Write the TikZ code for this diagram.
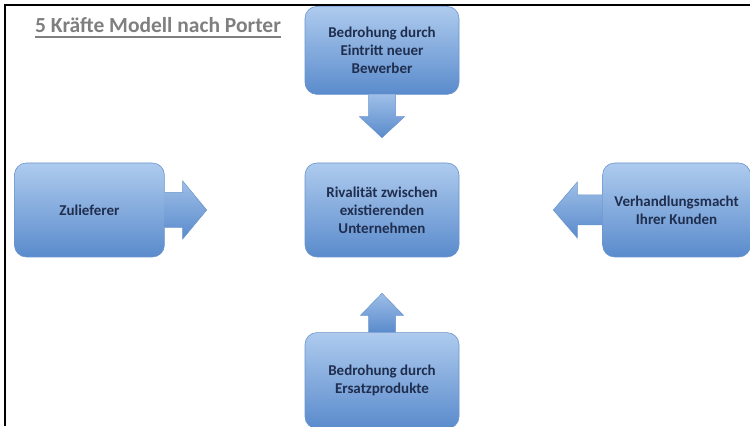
\documentclass[tikz,border=0pt]{standalone}
\usepackage{fontspec}
\setmainfont{Carlito}
\usetikzlibrary{positioning}
\definecolor{boxtop}{HTML}{AECBEE}
\definecolor{boxbottom}{HTML}{5A8BCC}
\definecolor{boxline}{HTML}{6A94CC}
\definecolor{boxtext}{HTML}{1F2E4E}
\definecolor{titlegray}{HTML}{7F7F7F}

\begin{document}
\begin{tikzpicture}[x=1pt, y=1pt,
		force/.style={rectangle, rounded corners=12pt, minimum width=154pt, minimum height=94pt,
			top color=boxtop, bottom color=boxbottom, draw=boxline, line width=.6pt,
			align=center, text=boxtext, inner sep=2pt,
			font=\bfseries\fontsize{15}{18}\selectfont},
		blockarrow/.style={top color=boxtop!80!boxbottom, bottom color=boxbottom, draw=boxline, line width=.5pt}]
			\useasboundingbox (0,0) rectangle (750,426);
			
			% frame of the slide
			\draw[line width=1.8pt] (5,0) -- (5,421) -- (750,421);
			
			\node[anchor=base west, inner sep=0, text=titlegray, font=\bfseries\fontsize{21.5}{26}\selectfont] (title) at (35,393) {5 Kräfte Modell nach Porter};
			\draw[titlegray, line width=1.5pt] ([yshift=-4pt]title.base west) -- ([yshift=-4pt]title.base east);
			
			\node[force] (rival) at (382,216) {Rivalität zwischen\\existierenden\\Unternehmen};
			\node[force, above=68pt of rival, minimum height=88pt] (entry) {Bedrohung durch\\Eintritt neuer\\Bewerber};
			\node[force, left=140pt of rival, minimum width=150pt] (supplier) {Zulieferer};
			\node[force, right=143pt of rival, minimum width=148pt] (customer) {Verhandlungsmacht\\Ihrer Kunden};
			\node[force, below=75pt of rival, minimum height=96pt] (subst) {Bedrohung durch\\Ersatzprodukte};
			
			% block arrows towards the rivalry
			\path[blockarrow] (entry.south) +(-13.5,0) -- +(-13.5,-22) -- +(-22.5,-22) -- +(0,-43) -- +(22.5,-22) -- +(13.5,-22) -- +(13.5,0);
			\path[blockarrow] (supplier.east) +(0,17.5) -- +(18,17.5) -- +(18,29) -- +(42,0) -- +(18,-29) -- +(18,-17.5) -- +(0,-17.5);
			\path[blockarrow] (customer.west) +(0,15) -- +(-25,15) -- +(-25,28) -- +(-49,0) -- +(-25,-28) -- +(-25,-15) -- +(0,-15);
			\path[blockarrow] (subst.north) +(-13.5,0) -- +(-13.5,17) -- +(-21.5,17) -- +(0,39) -- +(21.5,17) -- +(13.5,17) -- +(13.5,0);
		\end{tikzpicture}
\end{document}
